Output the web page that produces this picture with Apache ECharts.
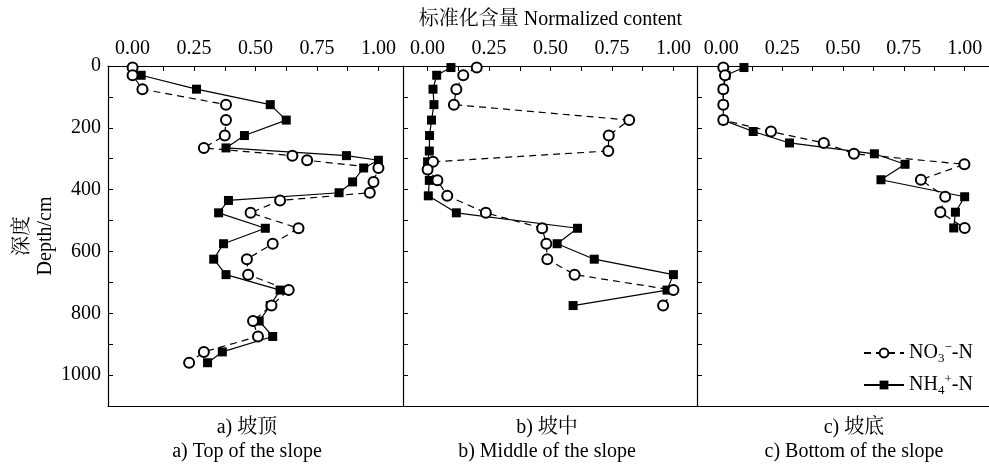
<!DOCTYPE html>
<html><head><meta charset="utf-8">
<script src="https://cdn.jsdelivr.net/npm/echarts@6/dist/echarts.min.js"></script>
<style>html,body{margin:0;padding:0;background:#fff;overflow:hidden}#c{width:989px;height:465px}</style>
</head><body><div id="c"></div>
<script>
// ---- data (depth in cm, normalized content) ----
const topNO3Depth = [5,30,75,125,175,225,265,290,305,330,375,410,435,475,525,575,625,675,725,775,825,875,925,960];
const topNO3      = [0.00,0.00,0.04,0.38,0.38,0.375,0.29,0.65,0.71,1.00,0.98,0.965,0.60,0.48,0.675,0.57,0.465,0.47,0.635,0.565,0.49,0.51,0.29,0.23];
const topNH4Depth = [30,75,125,175,225,265,290,305,330,375,410,435,475,525,575,625,675,725,775,825,875,925,960];
const topNH4      = [0.035,0.26,0.56,0.625,0.455,0.38,0.87,1.00,0.94,0.895,0.84,0.39,0.35,0.54,0.37,0.33,0.38,0.60,0.56,0.515,0.57,0.365,0.305];

const midNO3Depth = [5,30,75,125,175,225,275,310,335,370,420,475,525,575,625,675,725,775];
const midNO3      = [0.20,0.145,0.117,0.107,0.82,0.737,0.735,0.022,0.0,0.04,0.08,0.237,0.466,0.483,0.487,0.598,1.00,0.958];
const midNH4Depth = [5,30,75,125,175,225,275,310,335,370,420,475,525,575,625,675,725,775];
const midNH4      = [0.095,0.037,0.022,0.026,0.016,0.008,0.007,0.0,0.0,0.007,0.003,0.117,0.61,0.527,0.678,1.00,0.974,0.592];

const botNO3Depth = [5,30,75,125,175,212,249,284,318,368,423,473,524];
const botNO3      = [0.008,0.015,0.008,0.008,0.008,0.204,0.421,0.545,0.999,0.82,0.92,0.90,1.00];
const botNH4Depth = [5,30,75,125,175,212,249,284,318,368,423,473,524];
const botNH4      = [0.093,0.019,0.008,0.008,0.008,0.131,0.28,0.629,0.755,0.656,1.00,0.962,0.955];

const xLabelValues = [0, 0.25, 0.5, 0.75, 1];
const xTickValues  = [0, 0.125, 0.25, 0.375, 0.5, 0.625, 0.75, 0.875, 1];
const yLabelValues = [0, 200, 400, 600, 800, 1000];
const yTickValues  = [0, 100, 200, 300, 400, 500, 600, 700, 800, 900, 1000];

const panelTitlesCN = ['a) 坡顶', 'b) 坡中', 'c) 坡底'];
const panelTitlesEN = ['a) Top of the slope', 'b) Middle of the slope', 'c) Bottom of the slope'];
const nameNO3 = 'NO₃⁻-N';
const nameNH4 = 'NH₄⁺-N';

// ---- chart ----
const FF = '"Liberation Serif", "Times New Roman", "Noto Serif CJK SC", "Noto Sans CJK SC", serif';
const zip = (v, d) => v.map((x, i) => [x, d[i]]);
const panels = [
  {no3: zip(topNO3, topNO3Depth), nh4: zip(topNH4, topNH4Depth)},
  {no3: zip(midNO3, midNO3Depth), nh4: zip(midNH4, midNH4Depth)},
  {no3: zip(botNO3, botNO3Depth), nh4: zip(botNH4, botNH4Depth)}
];
const gridLefts = [108, 403, 697];
const titleX = [247, 547, 854];
const AX = {color: '#000', width: 1.2};

const grids = gridLefts.map(l => ({left: l, top: 66, width: 295, height: 340, show: false}));

const xAxes = [];
gridLefts.forEach((l, i) => {
  xAxes.push({
    gridIndex: i, type: 'value', position: 'top', min: -0.1, max: 1.1,
    axisLine: {show: true, onZero: false, lineStyle: AX},
    axisTick: {show: true, inside: true, length: 5, customValues: xTickValues, lineStyle: {color: '#000', width: 1}},
    axisLabel: {show: true, customValues: xLabelValues, formatter: v => Number(v).toFixed(2), fontSize: 20, fontFamily: FF, color: '#000', margin: 7},
    splitLine: {show: false},
    name: i === 1 ? '标准化含量 Normalized content' : '',
    nameLocation: 'middle', nameGap: 36,
    nameTextStyle: {fontSize: 20, fontFamily: FF, color: '#000'}
  });
});
gridLefts.forEach((l, i) => {
  xAxes.push({
    gridIndex: i, type: 'value', position: 'bottom', min: -0.1, max: 1.1,
    axisLine: {show: true, onZero: false, lineStyle: AX},
    axisTick: {show: false}, axisLabel: {show: false}, splitLine: {show: false}
  });
});

const yAxes = gridLefts.map((l, i) => ({
  gridIndex: i, type: 'value', inverse: true, min: 0, max: 1100, position: 'left',
  axisLine: {show: true, onZero: false, lineStyle: AX},
  axisTick: {show: true, inside: true, length: 5, customValues: yTickValues, lineStyle: {color: '#000', width: 1}},
  axisLabel: {show: i === 0, customValues: yLabelValues, formatter: v => String(v), fontSize: 20, fontFamily: FF, color: '#000', margin: 7},
  splitLine: {show: false},
  name: i === 0 ? '深度\nDepth/cm' : '',
  nameLocation: 'middle', nameRotate: 90, nameGap: 48,
  nameTextStyle: {fontSize: 20, fontFamily: FF, color: '#000', lineHeight: 23}
}));

const series = [];
panels.forEach((p, i) => {
  series.push({
    name: nameNH4, type: 'line', xAxisIndex: i, yAxisIndex: i, data: p.nh4,
    symbol: 'rect', symbolSize: 9, color: '#000',
    itemStyle: {color: '#000'},
    lineStyle: {color: '#000', width: 1.2, type: 'solid'},
    z: 2
  });
  series.push({
    name: nameNO3, type: 'line', xAxisIndex: i, yAxisIndex: i, data: p.no3,
    symbol: 'emptyCircle', symbolSize: 10, color: '#000',
    itemStyle: {color: '#000', borderColor: '#000', borderWidth: 1.2},
    lineStyle: {color: '#000', width: 1.2, type: [7, 5]},
    z: 3
  });
});

const graphics = [];
titleX.forEach((x, i) => {
  graphics.push({type: 'text', x: x, y: 428, style: {text: panelTitlesCN[i], font: '20px ' + FF, fill: '#000', textAlign: 'center', textVerticalAlign: 'middle', align: 'center', verticalAlign: 'middle'}});
  graphics.push({type: 'text', x: x, y: 452, style: {text: panelTitlesEN[i], font: '20px ' + FF, fill: '#000', textAlign: 'center', textVerticalAlign: 'middle', align: 'center', verticalAlign: 'middle'}});
});

const chart = echarts.init(document.getElementById('c'), null, {renderer: 'canvas'});
chart.setOption({
  animation: false,
  backgroundColor: '#fff',
  grid: grids,
  xAxis: xAxes,
  yAxis: yAxes,
  series: series,
  legend: {
    data: [nameNO3, nameNH4],
    orient: 'vertical', left: 863, top: 341, padding: 0,
    itemWidth: 40, itemHeight: 11, itemGap: 8,
    formatter: n => n === nameNO3 ? '{n|NO}{sub|3}{sup|−}{n|-N}' : '{n|NH}{sub|4}{sup|+}{n|-N}',
    textStyle: {
      color: '#000', fontFamily: FF, fontSize: 20,
      rich: {
        n: {fontSize: 20, fontFamily: FF, color: '#000', lineHeight: 24},
        sub: {fontSize: 13, fontFamily: FF, color: '#000', verticalAlign: 'bottom'},
        sup: {fontSize: 13, fontFamily: FF, color: '#000', verticalAlign: 'top'}
      }
    }
  },
  graphic: graphics
});
</script></body></html>
